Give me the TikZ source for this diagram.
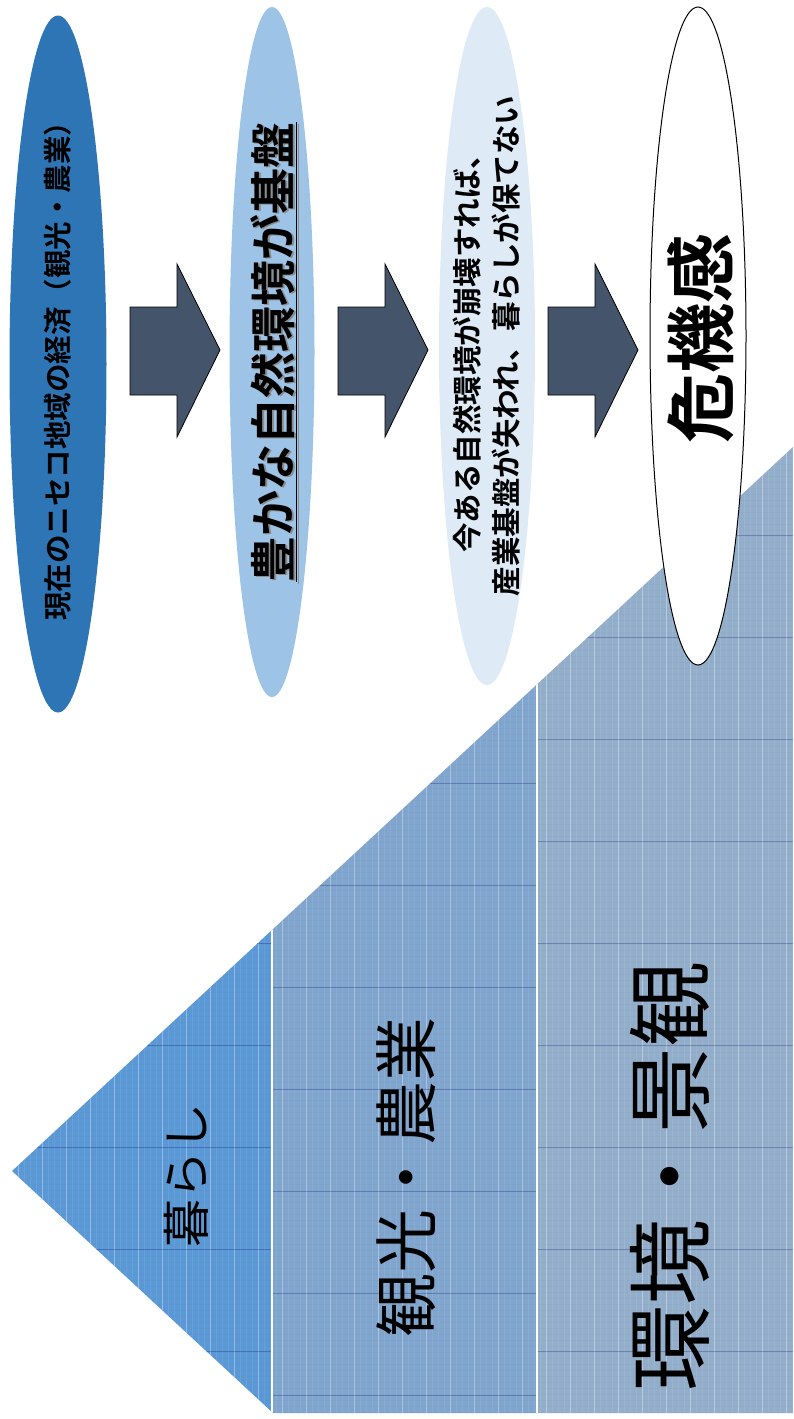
\documentclass[tikz,border=0pt]{standalone}
\usepackage{fontspec}
\usetikzlibrary{shapes.geometric}
\newfontfamily\jpb{Noto Sans CJK JP Bold}
\newfontfamily\jpr{Noto Sans CJK JP}
\definecolor{eA}{HTML}{2E75B6}
\definecolor{eB}{HTML}{9DC3E6}
\definecolor{eC}{HTML}{DEEBF7}
\definecolor{arr}{HTML}{44546A}
\definecolor{LA}{HTML}{5A98D6}
\definecolor{LB}{HTML}{80A5CE}
\definecolor{LC}{HTML}{93AECB}
\tikzset{
  oval/.style={ellipse, inner sep=0pt},
  ovaltext/.style={rotate=90, text=black, inner sep=0pt},
  blockarrow/.style={fill=arr, draw=black, line width=0.8pt, line join=miter},
  layerlabel/.style={rotate=90, text=black, inner sep=0pt},
}
\begin{document}
\begin{tikzpicture}[x=1pt, y=-1pt]
\useasboundingbox (0,0) rectangle (793,1419);
\fill[white] (0,0) rectangle (793,1419);

% ---------- pyramid ----------
\begin{scope}
  \clip (12,1171) -- (793,447) -- (793,1413) -- (273,1413) -- cycle;
  \fill[LA] (0,400) rectangle (272,1419);
  \fill[LB] (272,400) rectangle (537,1419);
  \fill[LC] (537,400) rectangle (793,1419);
  % texture
  \foreach \x in {6,12,...,792} {
    \draw[white, opacity=0.08, line width=0.8pt] (\x,400) -- (\x,1419);
  }
  \foreach \x in {18,42,...,792} {
    \draw[white, opacity=0.3, line width=1pt] (\x,400) -- (\x,1419);
  }
  \foreach \y in {404,410,...,1419} {
    \draw[gray, opacity=0.06, line width=0.8pt] (0,\y) -- (793,\y);
  }
  \foreach \y in {433,535,...,1419} {
    \draw[black!60!blue, opacity=0.25, line width=0.8pt] (0,\y) -- (272,\y);
  }
  \foreach \y in {477,579,...,1419} {
    \draw[black!60!blue, opacity=0.25, line width=0.8pt] (272,\y) -- (537,\y);
  }
  \foreach \y in {433,535,...,1419} {
    \draw[black!60!blue, opacity=0.25, line width=0.8pt] (537,\y) -- (793,\y);
  }
  \draw[white, line width=2pt] (272,400) -- (272,1419);
  \draw[white, line width=2pt] (537,400) -- (537,1419);
\end{scope}

\node[layerlabel, font=\jpr\fontsize{48}{48}\selectfont] (kurashi) at (186,1175) {暮らし};
\node[layerlabel, font=\jpr\fontsize{64}{64}\selectfont] (kanko) at (406,1177) {観光・農業};
\node[layerlabel, font=\jpr\fontsize{86}{86}\selectfont] (kankyo) at (670,1176) {環境・景観};

% ---------- ellipses ----------
\node[oval, fill=eA, minimum width=97pt, minimum height=697pt] (e1) at (58,364) {};
\node[ovaltext, font=\jpb\fontsize{28.5}{28.5}\selectfont] (t1) at (e1.center) {現在のニセコ地域の経済（観光・農業）};

\node[oval, fill=eB, minimum width=85pt, minimum height=690pt] (e2) at (272,352) {};
\node[ovaltext, text=black!45, font=\jpb\fontsize{46}{46}\selectfont]
      at (275.5,353.5) {\underline{豊かな自然環境が基盤}};
\node[ovaltext, font=\jpb\fontsize{46}{46}\selectfont]
      (t2) at (274,352) {\underline{豊かな自然環境が基盤}};

\node[oval, fill=eC, minimum width=96pt, minimum height=678pt] (e3) at (487,346) {};
\node[ovaltext, align=center, font=\jpb\fontsize{29.5}{39}\selectfont] (t3) at (e3.center)
      {今ある自然環境が崩壊すれば、\\産業基盤が失われ、暮らしが保てない};

\node[oval, fill=white, draw=black, line width=1pt, minimum width=96pt, minimum height=658pt] (e4) at (698,336) {};
\node[ovaltext, font=\jpb\fontsize{70}{70}\selectfont] (t4) at (701,338) {危機感};

% ---------- block arrows ----------
\foreach \x/\n in {130/a1, 338/a2, 548/a3} {
  \draw[blockarrow] (\x,307) -- (\x+47,307) -- (\x+47,264) -- (\x+90,350)
     -- (\x+47,437) -- (\x+47,395) -- (\x,395) -- cycle;
}
\end{tikzpicture}
\end{document}
